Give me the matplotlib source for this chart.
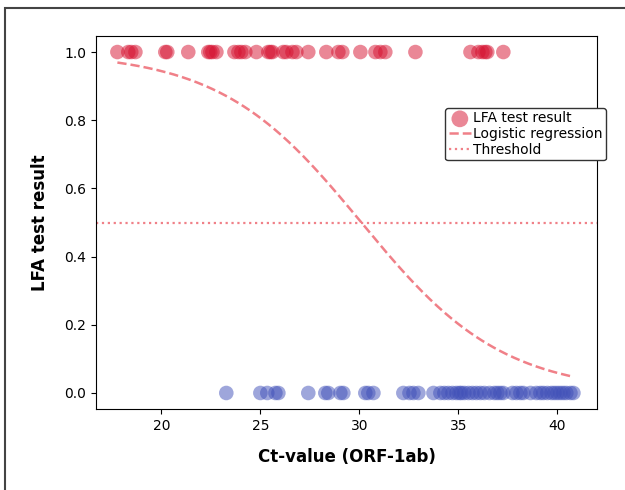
import numpy as np
import matplotlib
matplotlib.use("Agg")
import matplotlib.pyplot as plt
from matplotlib.patches import Rectangle

# Ct values of samples with positive LFA result (y = 1)
ct_positive = [17.78, 18.33, 18.48, 18.69, 20.20, 20.30, 21.36, 22.37, 22.47, 22.58,
               22.78, 23.69, 23.89, 24.04, 24.24, 24.80, 25.40, 25.51, 25.61, 26.16,
               26.31, 26.62, 26.82, 27.42, 28.33, 28.94, 29.14, 30.05, 30.81, 31.06,
               31.31, 32.83, 35.61, 36.01, 36.21, 36.36, 36.46, 37.27]
# Ct values of samples with negative LFA result (y = 0)
ct_negative = [23.28, 25.00, 25.35, 25.76, 25.91, 27.42, 28.28, 28.43, 29.04, 29.19,
               30.30, 30.45, 30.71, 32.22, 32.53, 32.73, 32.98, 33.74, 34.09, 34.29,
               34.49, 34.70, 34.90, 35.05, 35.15, 35.30, 35.51, 35.71, 35.91, 36.11,
               36.31, 36.57, 36.82, 36.97, 37.12, 37.27, 37.73, 37.93, 38.13, 38.28,
               38.64, 38.94, 39.14, 39.29, 39.49, 39.70, 39.85, 40.00, 40.15, 40.30,
               40.45, 40.66, 40.81]
# Fitted logistic regression parameters (midpoint and slope)
logit_midpoint = 30.1
logit_slope = 0.28
threshold = 0.5

fig = plt.figure(figsize=(6.25, 4.9), dpi=100)
ax = fig.add_axes([0.1536, 0.1653, 0.8016, 0.7612])

ax.scatter(ct_positive, [1] * len(ct_positive), s=110, color="#d6102f", alpha=0.5,
           edgecolors="none", label="LFA test result")
ax.scatter(ct_negative, [0] * len(ct_negative), s=110, color="#3f4fb8", alpha=0.5,
           edgecolors="none")

all_ct = np.array(ct_positive + ct_negative)
xs = np.linspace(all_ct.min(), all_ct.max(), 300)
ys = 1.0 / (1.0 + np.exp(logit_slope * (xs - logit_midpoint)))
ax.plot(xs, ys, linestyle="--", color="#f08088", lw=1.8, label="Logistic regression")
ax.axhline(threshold, linestyle=":", color="#f08088", lw=1.6, label="Threshold")

ax.set_xlim(16.7, 42.0)
ax.set_ylim(-0.047, 1.047)
ax.set_xticks([20, 25, 30, 35, 40])
ax.set_yticks([0.0, 0.2, 0.4, 0.6, 0.8, 1.0])
ax.tick_params(labelsize=10)
ax.set_xlabel("Ct-value (ORF-1ab)", fontsize=12, fontweight="bold", labelpad=11)
ax.set_ylabel("LFA test result", fontsize=12, fontweight="bold", labelpad=11)

leg = ax.legend(loc="upper right", bbox_to_anchor=(1.018, 0.807), borderaxespad=0,
                fontsize=10, labelspacing=0.12, handletextpad=0.15, borderpad=0.25,
                handlelength=1.6, markerscale=1.15, framealpha=1,
                edgecolor="#333333", fancybox=True)
leg.get_frame().set_linewidth(1.0)

fig.patches.append(Rectangle((5 / 625, -0.02), 1.02, 1 - 8 / 490 + 0.02,
                             transform=fig.transFigure, fill=False,
                             edgecolor="#444444", lw=1.5, clip_on=False))

fig.savefig("out.png", dpi=100)
